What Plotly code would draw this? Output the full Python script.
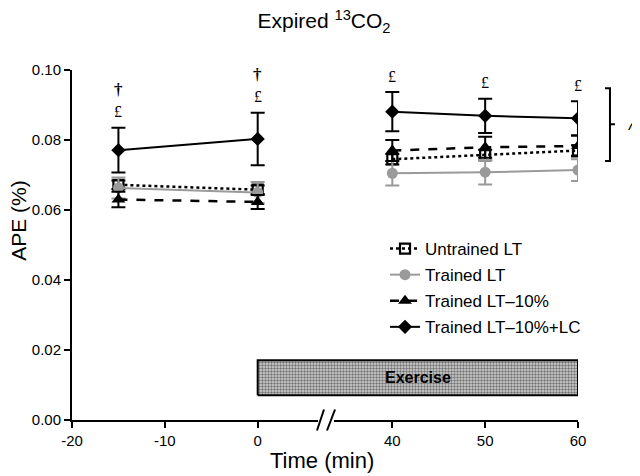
import plotly.graph_objects as go

# ---- data ----
times = [-15, 0, 40, 50, 60]
untrained_mean = [0.0672, 0.0658, 0.0745, 0.0757, 0.0770]
untrained_err = [0.0012, 0.0012, 0.0015, 0.0015, 0.0015]
trained_mean = [0.0663, 0.0650, 0.0705, 0.0708, 0.0714]
trained_err = [0.0030, 0.0030, 0.0035, 0.0035, 0.0031]
lt10_mean = [0.0630, 0.0623, 0.0770, 0.0779, 0.0783]
lt10_err = [0.0022, 0.0020, 0.0030, 0.0030, 0.0030]
lc_mean = [0.0771, 0.0803, 0.0881, 0.0869, 0.0862]
lc_err = [0.0064, 0.0075, 0.0056, 0.0049, 0.0049]
series_names = ["Untrained LT", "Trained LT", "Trained LT\u201310%", "Trained LT\u201310%+LC"]
x_tick_labels = [-20, -10, 0, 40, 50, 60]
y_tick_vals = [0.00, 0.02, 0.04, 0.06, 0.08, 0.10]
exercise_start, exercise_end = 0, 60
pound_marks = [True, True, True, True, True]
dagger_marks = [True, True, False, False, False]

FONT = "Liberation Sans, Arial, sans-serif"
SERIF = "Liberation Serif, Times New Roman, serif"
GAP = 25.5  # axis units cut out by the axis break between 0 and 40


def axis_pos(t):
    return t if t <= 0 else t - GAP


def split(vals):
    # insert a gap so lines do not cross the axis break
    return vals[:2] + [None] + vals[2:]


xs = split([axis_pos(t) for t in times])

fig = go.Figure()

styles = [
    dict(mean=untrained_mean, err=untrained_err, color="black",
         line=dict(color="black", width=2.5, dash="dot"),
         marker=dict(symbol="square-open", size=10, color="black", line=dict(width=2.2, color="black"))),
    dict(mean=trained_mean, err=trained_err, color="#9a9a9a",
         line=dict(color="#9a9a9a", width=2),
         marker=dict(symbol="circle", size=11, color="#9a9a9a")),
    dict(mean=lt10_mean, err=lt10_err, color="black",
         line=dict(color="black", width=2.5, dash="dash"),
         marker=dict(symbol="triangle-up", size=12, color="black")),
    dict(mean=lc_mean, err=lc_err, color="black",
         line=dict(color="black", width=2),
         marker=dict(symbol="diamond", size=11, color="black")),
]

for name, s in zip(series_names, styles):
    fig.add_trace(go.Scatter(
        x=xs, y=split(s["mean"]), name=name, mode="lines+markers",
        line=s["line"], marker=s["marker"], connectgaps=False,
        legendgroup=name,
        error_y=dict(type="data", array=split(s["err"]), visible=True,
                     color=s["color"], thickness=2, width=7),
    ))

# Exercise box
x0, x1 = axis_pos(exercise_start), axis_pos(exercise_end)
fig.add_trace(go.Scatter(
    x=[x0, x0, x1, x1, x0], y=[0.0071, 0.0171, 0.0171, 0.0071, 0.0071],
    mode="lines", fill="toself", line=dict(color="black", width=2),
    fillcolor="#c0c0c0",
    fillpattern=dict(shape=".", size=3, solidity=0.5, fgcolor="#111111", bgcolor="#d4d4d4"),
    showlegend=False, hoverinfo="skip",
))

annotations = [
    dict(x=(x0 + x1) / 2, y=0.0121, xref="x", yref="y", text="<b>Exercise</b>",
         showarrow=False, font=dict(family=FONT, size=16, color="black")),
    dict(x=0.494, y=-0.117, xref="paper", yref="paper", text="Time (min)", showarrow=False,
         font=dict(family=FONT, size=22, color="black"), xanchor="center", yanchor="middle"),
    dict(x=-0.106, y=0.57, xref="paper", yref="paper", text="APE (%)", showarrow=False,
         textangle=-90, font=dict(family=FONT, size=21, color="black"),
         xanchor="center", yanchor="middle"),
    dict(x=1.108, y=0.83, xref="paper", yref="paper", text="^", showarrow=False,
         font=dict(family=FONT, size=18, color="black"), xanchor="center", yanchor="middle"),
]

for t, m, e, p, d in zip(times, lc_mean, lc_err, pound_marks, dagger_marks):
    if p:
        annotations.append(dict(
            x=axis_pos(t), y=m + e, xref="x", yref="y", text="\u00a3", showarrow=False,
            yanchor="middle", yshift=16, font=dict(family=SERIF, size=16, color="black"),
        ))
    if d:
        annotations.append(dict(
            x=axis_pos(t), y=m + e, xref="x", yref="y", text="<b>\u2020</b>", showarrow=False,
            yanchor="middle", yshift=38, font=dict(family=SERIF, size=17, color="black"),
        ))

# bracket (paper coords)
bx, barm = 1.0632, 0.0099
btop, bbot, bmid = 0.948, 0.740, 0.845
shapes = [
    dict(type="path", xref="paper", yref="paper",
         path=f"M {bx - barm} {btop} L {bx} {btop} L {bx} {bbot} L {bx - barm} {bbot}",
         line=dict(color="black", width=2)),
    dict(type="line", xref="paper", yref="paper", x0=bx, x1=bx + barm, y0=bmid, y1=bmid,
         line=dict(color="black", width=2)),
    # axis break
    dict(type="line", xref="paper", yref="paper", x0=0.4862, x1=0.5178, y0=0, y1=0,
         line=dict(color="white", width=4), layer="above"),
    dict(type="line", xref="paper", yref="paper", x0=0.4842, x1=0.4980, y0=-0.03, y1=0.03,
         line=dict(color="black", width=2), layer="above"),
    dict(type="line", xref="paper", yref="paper", x0=0.5040, x1=0.5198, y0=-0.03, y1=0.03,
         line=dict(color="black", width=2), layer="above"),
]

fig.update_layout(
    width=632, height=468,
    margin=dict(l=64, r=62, t=62, b=56),
    paper_bgcolor="white", plot_bgcolor="white",
    font=dict(family=FONT, color="black"),
    title=dict(text="Expired <sup>13</sup>CO<sub>2</sub>", x=0.5, xanchor="center",
               y=0.972, yanchor="middle", font=dict(family=FONT, size=21, color="black")),
    showlegend=True,
    legend=dict(x=0.6186, y=0.54, xanchor="left", yanchor="top",
                font=dict(family=FONT, size=17, color="black"),
                bgcolor="rgba(0,0,0,0)", tracegroupgap=1, itemwidth=30),
    annotations=annotations,
    shapes=shapes,
)

fig.update_xaxes(
    range=[-20, axis_pos(60)],
    tickvals=[axis_pos(t) for t in x_tick_labels],
    ticktext=[str(t) for t in x_tick_labels],
    ticks="outside", ticklen=6, tickwidth=2, tickcolor="black",
    showline=True, linewidth=2, linecolor="black",
    showgrid=False, zeroline=False,
    tickfont=dict(family=FONT, size=15, color="black"),
)
fig.update_yaxes(
    range=[0, 0.10], tickvals=y_tick_vals, ticktext=[f"{v:.2f}" for v in y_tick_vals],
    ticks="outside", ticklen=6, tickwidth=2, tickcolor="black",
    showline=True, linewidth=2, linecolor="black",
    showgrid=False, zeroline=False,
    tickfont=dict(family=FONT, size=15, color="black"),
)

fig.write_html("out.html")
